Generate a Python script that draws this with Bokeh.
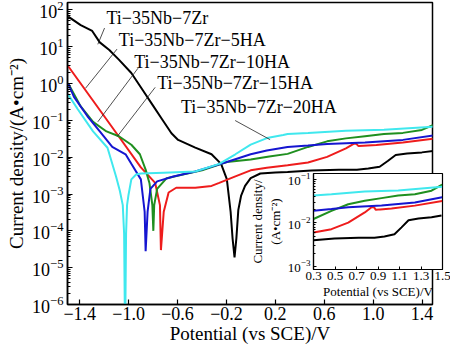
from bokeh.plotting import figure
from bokeh.models import Range1d, FixedTicker, CustomJSTickFormatter, GridBox, Label
from bokeh.embed import file_html
from bokeh.resources import INLINE

FONT = "Liberation Serif"
M = "\u2212"

# ---------------- data (potential V vs SCE, current density A/cm^2) ----------------
x_base = [-1.494, -1.392, -1.298, -1.236, -1.158, -1.080, -0.978, -0.884, -0.806, -0.728,
          -0.650, -0.595, -0.455, -0.322, -0.244, -0.197, -0.166, -0.150, -0.134, -0.119,
          -0.103, -0.080, -0.048, -0.002, 0.077, 0.20, 0.30, 0.495, 0.719, 0.867, 0.96,
          1.053, 1.119, 1.184, 1.277, 1.398, 1.491]
y_base = [65.8, 38.4, 26.8, 13.1, 8.1, 4.46, 1.93, 0.657, 0.268, 0.109,
          0.0446, 0.0294, 0.0182, 0.0120, 0.00658, 0.00253, 3.3e-4, 6.2e-5, 1.9e-5, 6.2e-5,
          3.7e-4, 9.1e-4, 1.66e-3, 2.69e-3, 3.6e-3, 3.85e-3, 3.98e-3, 4.37e-3, 4.57e-3, 4.57e-3, 4.9e-3,
          5.5e-3, 7.9e-3, 1.15e-2, 1.26e-2, 1.35e-2, 1.48e-2]

x_5ha = [-1.494, -1.298, -1.095, -0.90, -0.783, -0.744, -0.736, -0.713, -0.673, -0.611,
         -0.455, -0.322, -0.259, -0.127, -0.002, 0.13, 0.30, 0.467, 0.623, 0.777,
         0.84, 0.862, 0.88, 0.92, 1.026, 1.243, 1.497]
y_5ha = [2.94, 0.368, 0.0427, 5.3e-3, 2.0e-3, 5.0e-4, 3.0e-5, 3.3e-4, 1.1e-3, 1.48e-3,
         1.48e-3, 1.66e-3, 2.0e-3, 3.0e-3, 4.4e-3, 5.2e-3, 6.0e-3, 7.2e-3, 1.02e-2, 1.74e-2,
         2.3e-2, 2.3e-2, 2.0e-2, 2.05e-2, 2.15e-2, 2.5e-2, 3.2e-2]

x_10ha = [-1.494, -1.392, -1.291, -1.181, -1.080, -0.978, -0.908, -0.861, -0.830, -0.806,
          -0.798, -0.791, -0.767, -0.689, -0.556, -0.400, -0.197, -0.002, 0.15, 0.30,
          0.467, 0.623, 0.777, 0.933, 1.088, 1.243, 1.398, 1.497]
y_10ha = [1.0, 0.238, 0.0912, 0.050, 0.037, 0.0218, 0.012, 4.6e-3, 2.0e-3, 5.0e-4,
          1.0e-4, 5.0e-4, 1.38e-3, 2.69e-3, 3.4e-3, 4.4e-3, 7.4e-3, 8.7e-3, 1.05e-2, 1.23e-2,
          0.019, 0.0269, 0.0324, 0.0372, 0.0427, 0.0457, 0.055, 0.076]

x_15ha = [-1.494, -1.447, -1.338, -1.236, -1.134, -1.025, -0.978, -0.900, -0.869, -0.861,
          -0.845, -0.822, -0.767, -0.634, -0.455, -0.197, -0.002, 0.13, 0.30, 0.467,
          0.623, 0.933, 1.243, 1.497]
y_15ha = [1.0, 0.433, 0.131, 0.050, 0.019, 0.012, 6.6e-3, 2.5e-3, 3.3e-4, 2.8e-5,
          3.3e-4, 1.38e-3, 2.2e-3, 3.0e-3, 4.1e-3, 7.4e-3, 0.012, 0.0151, 0.019, 0.0209,
          0.0229, 0.0251, 0.0295, 0.0389]

x_20ha = [-1.494, -1.416, -1.291, -1.173, -1.134, -1.103, -1.072, -1.048, -1.037, -1.029,
          -1.021, -1.013, -1.002, -0.978, -0.939, -0.900, -0.713, -0.455, -0.259, -0.127,
          -0.002, 0.131, 0.264, 0.30, 0.467, 0.777, 1.088, 1.497]
y_20ha = [0.50, 0.20, 0.050, 0.018, 6.6e-3, 3.0e-3, 1.23e-3, 5.0e-4, 8.3e-5, 1e-7,
          8.3e-5, 5.0e-4, 9.1e-4, 2.5e-3, 3.4e-3, 3.6e-3, 3.8e-3, 4.1e-3, 6.6e-3, 0.012,
          0.0219, 0.033, 0.040, 0.0427, 0.0457, 0.0525, 0.056, 0.0676]

names = ["Ti" + M + "35Nb" + M + "7Zr", "Ti" + M + "35Nb" + M + "7Zr" + M + "5HA",
         "Ti" + M + "35Nb" + M + "7Zr" + M + "10HA", "Ti" + M + "35Nb" + M + "7Zr" + M + "15HA",
         "Ti" + M + "35Nb" + M + "7Zr" + M + "20HA"]
colors = ["#000000", "#ee1c1c", "#1f8f1f", "#1515d0", "#40e8ee"]
series = [(x_base, y_base), (x_5ha, y_5ha), (x_10ha, y_10ha), (x_15ha, y_15ha), (x_20ha, y_20ha)]

# annotation anchor points (data units)
label_x = [-1.181, -1.080, -0.955, -0.767, -0.572]
label_y = [58.3, 14.8, 3.95, 1.06, 0.224]
lead_x0 = [-1.197, -1.095, -0.923, -0.783, -0.129]
lead_y0 = [32.1, 8.61, 2.61, 0.787, 0.0989]
lead_x1 = [-1.252, -1.353, -1.252, -1.093, 0.157]
lead_y1 = [11.6, 0.741, 0.0914, 0.0366, 0.0299]

x_ticks = [-1.4, -1.0, -0.6, -0.2, 0.2, 0.6, 1.0, 1.4]
y_ticks = [1e-6, 1e-5, 1e-4, 1e-3, 1e-2, 1e-1, 1e0, 1e1, 1e2]
inset_x_ticks = [0.3, 0.5, 0.7, 0.9, 1.1, 1.3, 1.5]
inset_y_ticks = [1e-3, 1e-2, 1e-1]


def minors(decades):
    out = []
    for d in decades:
        out += [k * d for k in range(2, 10)]
    return out


x_fmt = CustomJSTickFormatter(code="return tick.toFixed(1).replace('-', '\u2212');")

# ---------------- main figure ----------------
p = figure(width=441, height=347, x_range=Range1d(-1.5, 1.485), y_range=Range1d(1e-6, 10 ** 2.2),
           y_axis_type="log", output_backend="svg", toolbar_location=None,
           min_border_left=58, min_border_right=1, min_border_top=2, min_border_bottom=43)
p.xgrid.visible = False
p.ygrid.visible = False
p.outline_line_color = "black"
p.outline_line_width = 1.5

for (xs, ys), c in zip(series, colors):
    p.line(xs, ys, line_color=c, line_width=2)

p.segment(lead_x0, lead_y0, lead_x1, lead_y1, line_color="#222222", line_width=0.8)
for tx, ty, t in zip(label_x, label_y, names):
    p.add_layout(Label(x=tx, y=ty, text=t, text_font=FONT, text_font_size="18px",
                       text_baseline="middle", text_align="left", text_color="black"))

p.xaxis.ticker = FixedTicker(ticks=x_ticks)
p.xaxis.formatter = x_fmt
p.yaxis.ticker = FixedTicker(ticks=y_ticks, minor_ticks=minors(y_ticks[:-1]))
for ax in (p.xaxis, p.yaxis):
    ax.axis_line_width = 1.5
    ax.major_tick_in = 5
    ax.major_tick_out = 0
    ax.major_tick_line_width = 1.2
    ax.minor_tick_in = 3
    ax.minor_tick_out = 0
    ax.major_label_text_font = FONT
    ax.major_label_text_font_size = "18px"
    ax.major_label_text_color = "black"
    ax.axis_label_text_font = FONT
    ax.axis_label_text_font_size = "19px"
    ax.axis_label_text_font_style = "normal"
    ax.axis_label_text_color = "black"
p.xaxis.minor_tick_line_color = None
p.xaxis.major_label_standoff = 2
p.xaxis.axis_label_standoff = 0
p.yaxis.major_label_standoff = 4
p.yaxis.axis_label_standoff = 2
p.xaxis.axis_label = "Potential (vs SCE)/V"
p.yaxis.axis_label = "Current density/(A\u2022cm\u207b\u00b2)"

# ---------------- inset ----------------
ins = figure(frame_width=129, frame_height=96, x_range=Range1d(0.3, 1.5), y_range=Range1d(8.5e-4, 1.37e-1),
             y_axis_type="log", output_backend="svg", toolbar_location=None,
             min_border_left=57, min_border_right=9, min_border_top=2, min_border_bottom=30)
ins.margin = (171, 0, 0, 246)
ins.xgrid.visible = False
ins.ygrid.visible = False
ins.background_fill_color = "white"
ins.border_fill_alpha = 0
ins.outline_line_color = "black"
ins.outline_line_width = 1.2
for (xs, ys), c in zip(series, colors):
    ins.line(xs, ys, line_color=c, line_width=2)
ins.xaxis.ticker = FixedTicker(ticks=inset_x_ticks)
ins.yaxis.ticker = FixedTicker(ticks=inset_y_ticks, minor_ticks=minors(inset_y_ticks[:-1]))
for ax in (ins.xaxis, ins.yaxis):
    ax.axis_line_width = 1.2
    ax.major_tick_in = 3
    ax.major_tick_out = 0
    ax.minor_tick_in = 2
    ax.minor_tick_out = 0
    ax.major_label_text_font = FONT
    ax.major_label_text_font_size = "13px"
    ax.major_label_text_color = "black"
    ax.axis_label_text_font = FONT
    ax.axis_label_text_font_size = "13px"
    ax.axis_label_text_font_style = "normal"
    ax.axis_label_text_color = "black"
ins.xaxis.minor_tick_line_color = None
ins.xaxis.major_label_standoff = 2
ins.xaxis.axis_label_standoff = 1
ins.yaxis.major_label_standoff = 3
ins.yaxis.axis_label_standoff = 2
ins.xaxis.axis_label = "Potential (vs SCE)/V"
ins.yaxis.axis_label = "Current density/\n(A\u2022cm\u207b\u00b2)"

layout = GridBox(children=[(p, 0, 0), (ins, 0, 0)])

open("out.html", "w").write(file_html(layout, INLINE))
